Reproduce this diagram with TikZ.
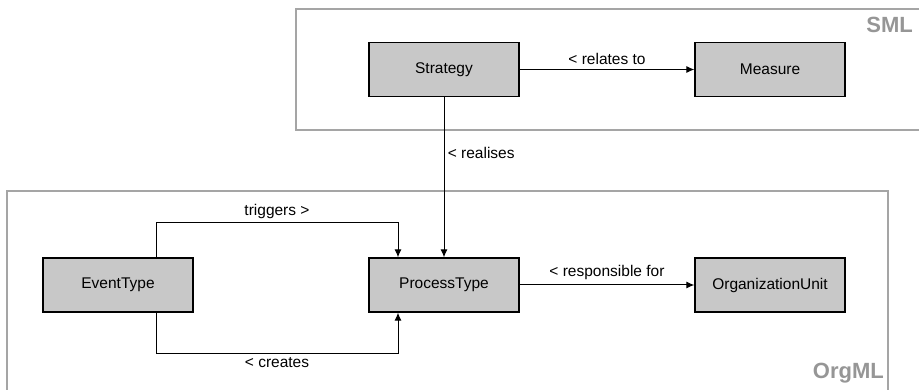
\documentclass[tikz,border=0pt]{standalone}
\usepackage{fontspec}
\setmainfont{Liberation Sans}
\usepackage{tikz}
\usetikzlibrary{arrows.meta}

\definecolor{fond}{RGB}{200,200,200}
\definecolor{bord}{RGB}{165,165,165}
\definecolor{titre}{RGB}{150,150,150}

\begin{document}
\begin{tikzpicture}[x=1pt, y=-1pt,
    boite/.style={draw, fill=fond, line width=1.4pt, minimum width=150pt, minimum height=54pt, inner sep=0pt, font=\fontsize{15.5}{18}\selectfont},
    cadre/.style={draw=bord, line width=2pt},
    nom/.style={text=titre, inner sep=0pt, font=\fontsize{22}{26}\selectfont\bfseries},
    fleche/.style={line width=1pt, -{Latex[length=8pt,width=7pt]}},
    every label/.style={font=\fontsize{15.5}{18}\selectfont}]
    \useasboundingbox (0,0) rectangle (919,390);
    % Cadres
    \draw[cadre] (925,9) -- (296,9) -- (296,130) -- (925,130);
    \draw[cadre] (7,395) -- (7,191) -- (888,191) -- (888,395);
    \node[nom, anchor=base east] at (913,33) (sml) {SML};
    \node[nom, anchor=base east] at (884,378) (orgml) {OrgML};
    % Boites
    \node[boite] at (444,69.5) (strat) {Strategy};
    \node[boite] at (770,69.5) (meas) {Measure};
    \node[boite] at (118,285) (event) {EventType};
    \node[boite] at (444,285) (proc) {ProcessType};
    \node[boite] at (770,285) (org) {OrganizationUnit};
    % Liens
    \begin{scope}[font=\fontsize{15.5}{18}\selectfont]
    \draw[fleche] (strat) -- node[above, yshift=1pt] {< relates to} (meas);
    \draw[fleche] (strat) -- node[pos=0.35, right] {< realises} (proc);
    \draw[fleche] (proc) -- node[above, yshift=1pt] {< responsible for} (org);
    \draw[fleche] ([xshift=38pt]event.north) -- ++(0,-35) -| node[pos=0.25, above] {triggers >} ([xshift=-46pt]proc.north);
    \draw[fleche] ([xshift=38pt]event.south) -- ++(0,41) -| node[pos=0.25, below] {< creates} ([xshift=-46pt]proc.south);
    \end{scope}
\end{tikzpicture}
\end{document}
